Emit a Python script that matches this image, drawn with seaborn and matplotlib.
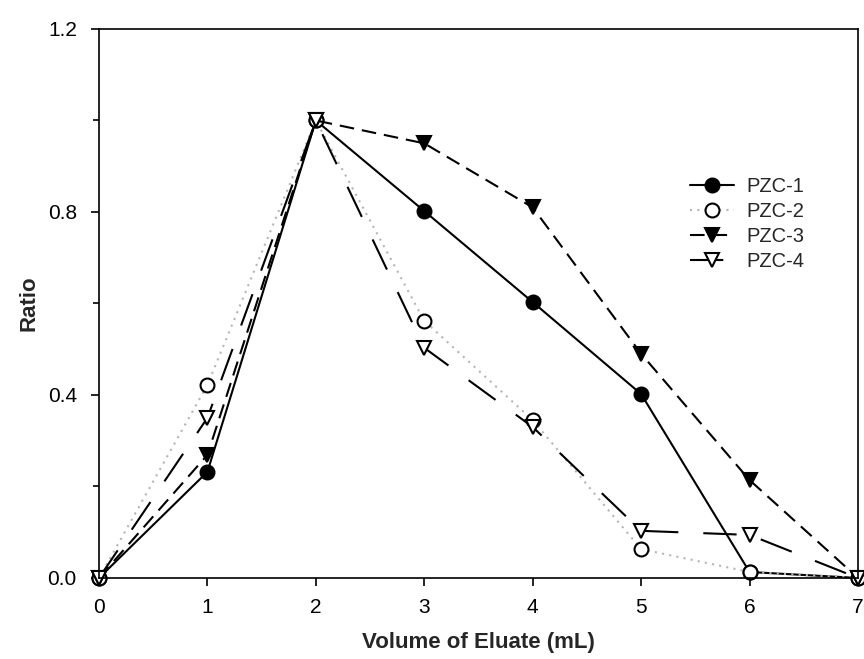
import matplotlib
matplotlib.use("Agg")
import matplotlib.pyplot as plt
import seaborn as sns
import numpy as np
from matplotlib.ticker import MultipleLocator

volume = [0, 1, 2, 3, 4, 5, 6, 7]
pzc1 = [0.0, 0.232, 1.0, 0.802, 0.603, 0.402, 0.013, 0.0]
pzc2 = [0.0, 0.422, 1.0, 0.562, 0.345, 0.063, 0.013, 0.0]
pzc3 = [0.0, 0.269, 1.0, 0.950, 0.810, 0.490, 0.214, 0.0]
pzc4 = [0.0, 0.350, 1.0, 0.503, 0.330, 0.103, 0.094, 0.0]
labels = ["PZC-1", "PZC-2", "PZC-3", "PZC-4"]

sns.set_theme(style="ticks")
plt.rcParams['font.family'] = ['Liberation Sans', 'DejaVu Sans']

fig = plt.figure(figsize=(8.64, 6.59), dpi=100)
ax = fig.add_axes([0.1146, 0.123, 0.8784, 0.833])

styles = [
    dict(data=pzc1, marker='o', mfc='black', lcolor='black', ls='-', ms=10),
    dict(data=pzc2, marker='o', mfc='white', lcolor='#b5b5b5', ls=(0, (1, 2.5)), ms=10),
    dict(data=pzc3, marker='v', mfc='black', lcolor='black', ls=(0, (7, 3.8)), ms=10),
    dict(data=pzc4, marker='v', mfc='white', lcolor='black', ls=(0, (16, 12)), ms=10),
]

for lab, st in zip(labels, styles):
    sns.lineplot(x=volume, y=st['data'], ax=ax, label=lab, color=st['lcolor'],
                 linestyle=st['ls'], linewidth=1.5, marker=st['marker'],
                 markersize=st['ms'], markerfacecolor=st['mfc'],
                 markeredgecolor='black', markeredgewidth=1.5,
                 clip_on=False, errorbar=None, sort=False)

ax.set_xlim(0, 7)
ax.set_ylim(0, 1.2)
ax.set_xticks(range(0, 8))
ax.set_yticks([0.0, 0.4, 0.8, 1.2])
ax.set_yticklabels(["0.0", "0.4", "0.8", "1.2"])
ax.yaxis.set_minor_locator(MultipleLocator(0.2))
ax.tick_params(axis='both', which='major', labelsize=15, direction='out',
               length=6, width=1.2, color='black', labelcolor='black')
ax.tick_params(axis='x', which='major', pad=8.5)
ax.tick_params(axis='y', which='major', pad=10)
ax.tick_params(axis='y', which='minor', direction='out', length=4, width=1.2, color='black')
for sp in ax.spines.values():
    sp.set_visible(True)
    sp.set_color('black')
    sp.set_linewidth(1.2)

ax.set_xlabel("Volume of Eluate (mL)", fontsize=16, fontweight='bold', labelpad=11)
ax.set_ylabel("Ratio", fontsize=16, fontweight='bold', labelpad=6)

leg = ax.legend(loc='upper left', bbox_to_anchor=(0.755, 0.763), frameon=False,
                fontsize=14.5, handlelength=2.2, handletextpad=0.6, labelspacing=0.3)

fig.savefig("out.png", dpi=100)
